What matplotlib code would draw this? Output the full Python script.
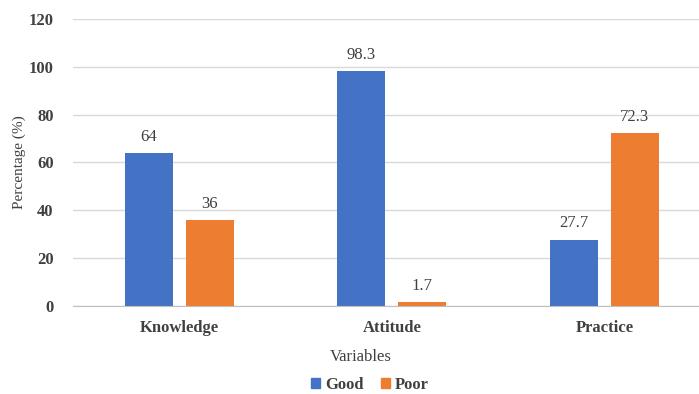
import numpy as np
import matplotlib.pyplot as plt
from matplotlib.patches import Patch

# Knowledge / attitude / practice levels
categories = ["Knowledge", "Attitude", "Practice"]
good = [64, 98.3, 27.7]
poor = [36, 1.7, 72.3]
yticks = [0, 20, 40, 60, 80, 100, 120]

BLUE = "#4472C4"
ORANGE = "#ED7D31"
TEXT = "#404040"
SERIF = ["Liberation Serif", "DejaVu Serif"]

plt.rcParams["font.family"] = SERIF

fig = plt.figure(figsize=(6.99, 3.94), dpi=100)
ax = fig.add_axes([0.1044, 0.2234, 0.8956, 0.7284])

x = np.arange(len(categories))
w = 0.226
off = 0.1435
b1 = ax.bar(x - off, good, w, color=BLUE, zorder=3)
b2 = ax.bar(x + off, poor, w, color=ORANGE, zorder=3)

for bars, vals in ((b1, good), (b2, poor)):
    for rect, v in zip(bars, vals):
        ax.text(rect.get_x() + rect.get_width() / 2, v + 3.5, f"{v:g}",
                ha="center", va="bottom", fontsize=12, color=TEXT, family=SERIF)

ax.set_xlim(-0.5, 2.445)
ax.set_ylim(0, 120)
ax.set_yticks(yticks)
ax.set_yticklabels([str(t) for t in yticks], fontsize=12, fontweight="bold",
                   color=TEXT, family=SERIF)
ax.set_xticks(x)
ax.set_xticklabels(categories, fontsize=12, fontweight="bold", color=TEXT, family=SERIF)
ax.tick_params(axis="both", length=0)
ax.tick_params(axis="x", pad=10)
ax.tick_params(axis="y", pad=14)

ax.grid(axis="y", color="#D9D9D9", linewidth=1, zorder=0)
for s in ("top", "right", "left"):
    ax.spines[s].set_visible(False)
ax.spines["bottom"].set_color("#BFBFBF")
ax.spines["bottom"].set_zorder(4)

ax.set_ylabel("Percentage (%)", fontsize=11, color=TEXT, family=SERIF)
ax.yaxis.set_label_coords(-(73 - 26) / (699 - 73), 0.5)
ax.set_xlabel("Variables", fontsize=12, color=TEXT, family=SERIF)
ax.xaxis.set_label_coords((361 - 73) / (699 - 73), -(349 - 306) / 287)

handles = [Patch(color=BLUE, label="Good"), Patch(color=ORANGE, label="Poor")]
fig.legend(handles=handles, loc="center", bbox_to_anchor=(370 / 699, 1 - 385 / 394),
           ncol=2, frameon=False, prop={"size": 12, "weight": "bold", "family": SERIF},
           handlelength=0.55, handleheight=0.55, handletextpad=0.3, columnspacing=1.0,
           labelcolor=TEXT)

fig.savefig("out.png", dpi=100)
